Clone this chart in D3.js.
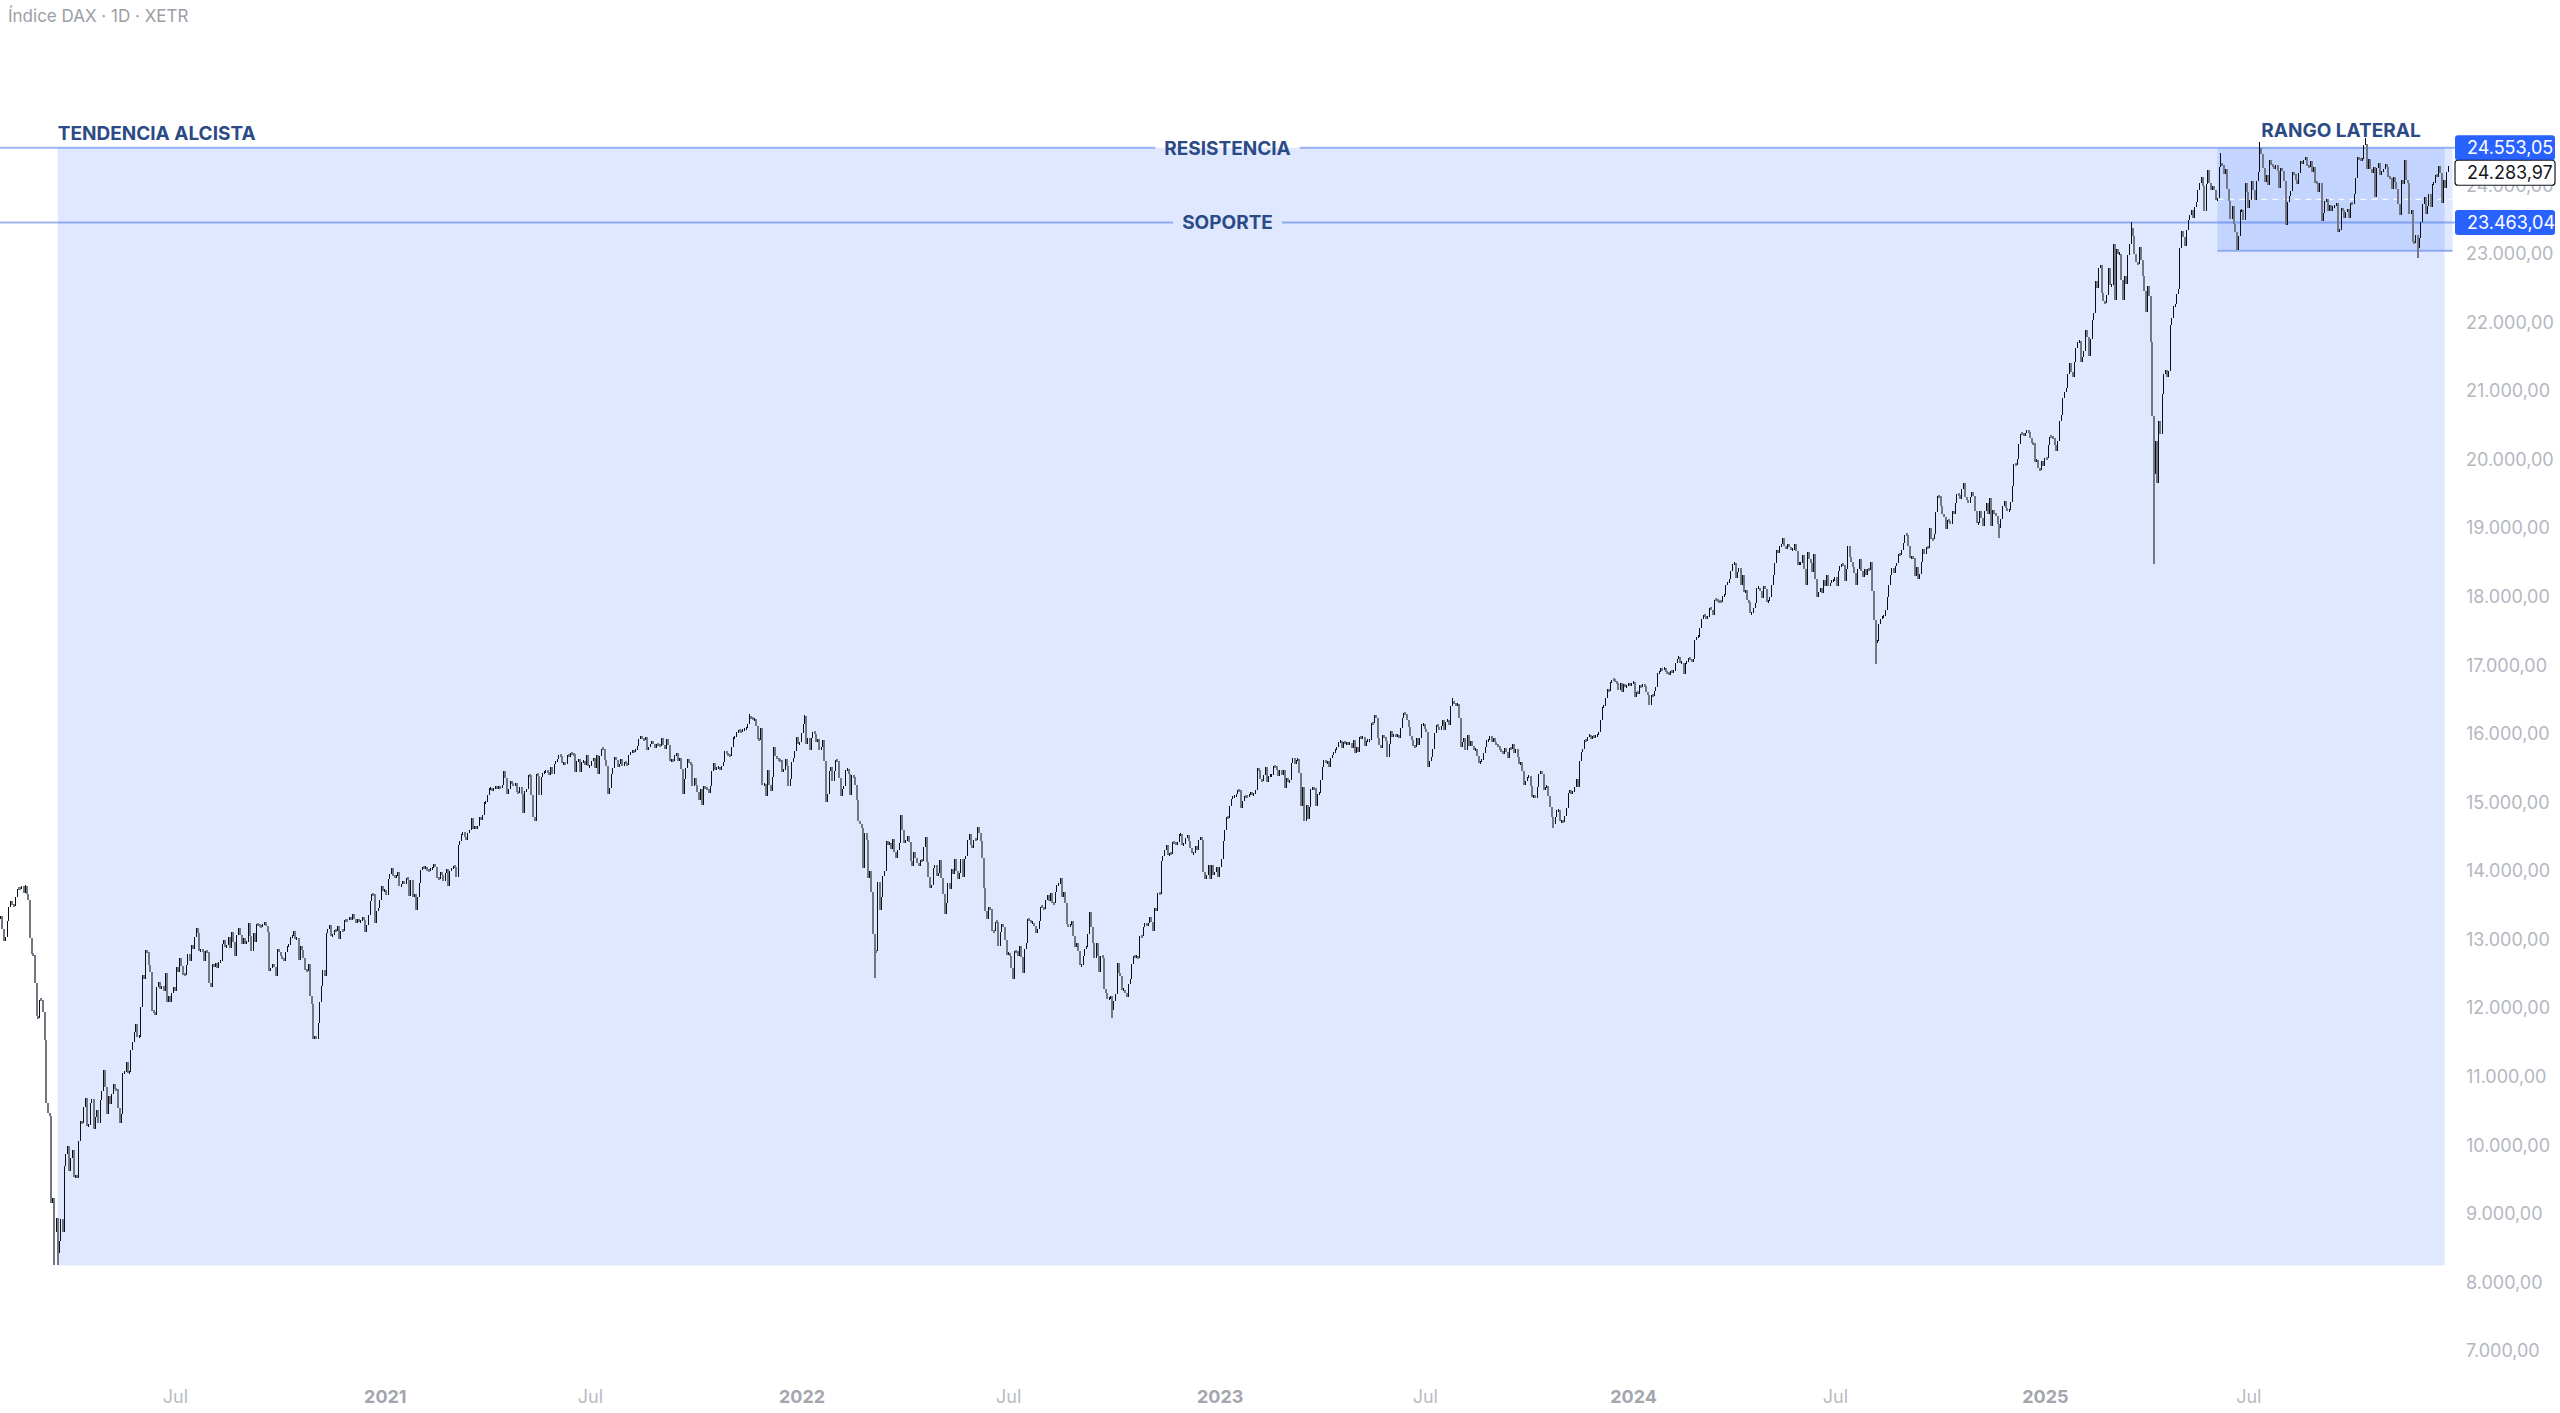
<!DOCTYPE html>
<html>
<head>
<meta charset="utf-8">
<script src="https://cdn.jsdelivr.net/npm/d3@7"></script>
<style>
html,body{margin:0;padding:0;background:#ffffff;}
svg{display:block;font-family:Inter,"Noto Sans",sans-serif;}
</style>
</head>
<body>
<svg id="chart" width="2560" height="1413"></svg>
<script>
// ---------------- DATA (daily closes, one inner array per month) ----------------
const years = [2020, 2021, 2022, 2023, 2024, 2025];
const firstMonth = [1, 1, 1, 1, 1, 1];

const dax2020 = [
  [13205,13324,13345,13158,12982],
  [13046,13281,13479,13575,13514,13494,13627,13750,13746,13744,13783,13681,13789,13665,13579,13035,12790,12775,12367,11890],
  [11857,12128,12127,11944,11542,10625,10475,10439,9161,9232,8742,8939,8442,8610,8929,8742,9701,9874,10000,9633,9816,9936],
  [9544,9571,9525,10075,10356,10333,10565,10697,10280,10301,10626,10676,10250,10415,10514,10336,10659,10796,11107,10862],
  [10467,10730,10607,10759,10904,10825,10820,10543,10337,10465,11058,11075,11223,11066,11074,11391,11505,11657,11781,11587],
  [11587,12021,12487,12431,12848,12820,12642,12530,11970,11949,11911,12316,12382,12281,12331,12262,12523,12093,12178,12089,12232,12311],
  [12260,12608,12528,12733,12616,12494,12489,12633,12800,12697,12930,12874,13046,13171,13104,12838,12856,12838,12689,12836,12822,12379,12313],
  [12647,12600,12660,12591,12674,12687,12947,12994,12901,12920,13047,12882,13109,12977,12764,13067,13178,13066,12945,13033,12945],
  [12974,13243,13058,12843,13100,12968,13238,13209,13203,13194,13218,13256,13208,13116,12542,12595,12643,12607,12469,12871,12826,12761],
  [12731,12689,12828,12906,12928,13042,13051,13138,13018,13028,12704,12908,12854,12736,12558,12543,12646,12178,12064,11561,11598,11556],
  [11788,12089,12324,12568,12480,13096,13164,13216,13052,13077,13139,13133,13202,13014,13137,13127,13292,13290,13286,13335,13291],
  [13382,13313,13253,13299,13271,13278,13340,13296,13114,13223,13362,13565,13668,13667,13246,13418,13465,13587,13791,13719]
];
const dax2021 = [
  [13727,13651,13892,13968,14050,13937,13925,13940,13989,13788,13815,13848,13816,13907,13874,13643,13870,13620,13665,13433],
  [13622,13835,14015,14060,14057,14059,14012,14011,14040,14050,14109,14064,13910,13887,13993,13950,13865,13976,14039,13786],
  [14012,14039,14081,14057,13921,14380,14437,14541,14569,14502,14461,14557,14597,14776,14621,14657,14621,14662,14786,14748,14817,15008,15008],
  [15107,15212,15213,15176,15202,15234,15215,15233,15209,15255,15460,15368,15129,15195,15320,15280,15249,15292,15154,15136],
  [15236,15128,14856,15170,15196,15400,15399,15120,14789,14730,15417,15396,15113,15370,15438,15438,15465,15450,15406,15520,15421],
  [15567,15603,15632,15693,15677,15574,15581,15571,15693,15674,15729,15711,15710,15448,15603,15636,15456,15589,15607,15554,15691,15531],
  [15537,15603,15650,15511,15692,15420,15688,15790,15789,15629,15540,15133,15216,15423,15514,15670,15618,15519,15571,15640,15544,15599],
  [15568,15555,15692,15744,15761,15745,15770,15826,15937,15977,15925,15921,15965,15766,15808,15852,15906,15860,15793,15851,15836,15835],
  [15946,15840,15781,15932,15843,15610,15623,15609,15701,15722,15616,15651,15490,15132,15348,15507,15645,15574,15573,15249,15365,15260],
  [15156,15036,15195,14973,15250,15207,15199,15147,15250,15462,15587,15474,15516,15523,15473,15543,15600,15757,15706,15696,15689],
  [15807,15954,15960,16029,16054,16046,16041,16067,16083,16095,16148,16248,16247,16214,16222,16116,15937,15918,16097,15257,15280,15100],
  [15472,15263,15170,15381,15813,15687,15639,15623,15621,15453,15476,15636,15532,15239,15341,15593,15653,15757,15964,15852,15885]
];
const dax2022 = [
  [16021,16153,16271,15862,15948,15768,15942,16040,16010,15884,15933,15773,15810,15912,15604,15011,15123,15460,15525,15318,15471],
  [15619,15613,15368,15100,15206,15242,15482,15490,15426,15114,15412,15370,15267,15042,14731,14693,14631,14052,14567,14461],
  [13905,14000,13698,13094,12835,12832,13848,13443,13628,13929,14000,14440,14388,14413,14326,14474,14284,14191,14306,14418,14821,14606,14415],
  [14446,14518,14425,14152,14078,14284,14193,14125,14076,14164,14153,14362,14502,14142,13924,13756,13795,14050,14098],
  [13939,13970,14171,13903,13674,13380,13534,13828,13739,14028,13964,14186,14007,13883,13982,14176,13920,14176,14231,14462,14541,14388],
  [14340,14461,14460,14653,14556,14446,14199,13761,13428,13304,13483,13447,13127,13126,13266,13265,12912,13119,13232,13186,13003,12784],
  [12813,12773,12595,12428,12843,12832,12767,12905,12756,12520,12864,12959,13308,13282,13247,13254,13210,13097,13166,13282,13484],
  [13479,13449,13587,13662,13574,13687,13535,13534,13694,13795,13816,13910,13626,13697,13544,13230,13194,13220,13272,13052,12893,12961,12834],
  [12630,12631,12761,12871,12904,13088,13402,13189,12956,12741,12958,12767,12531,12767,12741,12284,12227,12139,12140,12183,11976,12114],
  [12209,12670,12517,12471,12273,12273,12220,12172,12356,12438,12649,12765,12742,12767,12731,13053,13052,13196,13243,13211,13254],
  [13338,13256,13130,13460,13429,13688,13666,14146,14224,14313,14379,14234,14266,14257,14423,14422,14383,14428,14541,14542,14383,14397],
  [14490,14529,14447,14343,14261,14264,14370,14306,14461,14497,14460,13986,13893,13942,14098,13884,14097,13941,13995,14071,13924]
];
const dax2023 = [
  [14069,14181,14436,14610,14792,14774,14948,15058,15084,15087,15135,15187,15182,14920,15033,15103,15093,15081,15132,15150,15126,15128],
  [15180,15509,15476,15345,15320,15413,15524,15307,15398,15398,15400,15533,15532,15482,15398,15477,15400,15475,15210,15366],
  [15305,15328,15578,15654,15559,15631,15633,15428,14959,15233,14735,14967,14768,14933,15196,15216,15210,14957,15128,15142,15329,15522,15629],
  [15581,15603,15520,15655,15703,15729,15789,15807,15883,15896,15795,15882,15863,15872,15863,15874,15800,15922],
  [15726,15815,15734,15961,15953,15956,15834,15896,15913,15917,16164,16163,16275,16240,15952,15843,15793,15983,15953,15908,15664],
  [15854,16051,15964,15992,15960,15989,15949,16097,16230,16310,16290,16201,16111,15970,15911,15830,15813,15939,15847,15949,16147,16148],
  [16081,16039,15528,15603,15673,15790,16023,16141,16105,16068,16125,16204,16062,16176,16211,16131,16406,16470,16447,16415,16446],
  [16241,15815,15893,15952,15774,15995,15833,15904,15833,15768,15789,15677,15574,15603,15625,15725,15818,15914,15914,15978,15891,15947,15880],
  [15840,15825,15772,15741,15719,15800,15740,15654,15805,15778,15863,15727,15781,15664,15559,15598,15464,15256,15322,15378,15386],
  [15247,15085,15100,15071,15229,15423,15461,15423,15186,15238,15252,15095,14945,14798,14687,14800,14892,14892,14730,14731,14716,14810],
  [14924,15143,15189,15135,15152,15230,15353,15234,15614,15748,15786,15919,15901,15957,15995,15937,15970,15959,15969,15993,16030,16215],
  [16397,16405,16533,16656,16629,16759,16794,16791,16766,16752,16651,16751,16611,16734,16687,16706,16742,16701,16752]
];
const dax2024 = [
  [16769,16538,16617,16594,16716,16689,16721,16705,16622,16572,16431,16567,16555,16628,16683,16889,16907,16961,16942,16972,16904,16903],
  [16859,16918,16911,16926,17037,17100,17124,17037,17046,16880,17046,17047,17117,17093,17068,17092,17370,17419,17423,17556,17678],
  [17735,17716,17698,17716,17843,17814,17746,17965,17961,17942,17936,17932,18015,18026,18179,18205,18261,18384,18477,18492],
  [18283,18367,18430,18175,18318,18077,18097,17955,17930,17766,17770,17837,17917,18137,18138,18088,17991,18159,18118,17932],
  [17937,18001,18175,18322,18498,18686,18650,18742,18768,18869,18738,18704,18768,18726,18691,18693,18774,18677,18473,18496,18498],
  [18608,18406,18175,18652,18557,18494,18369,18630,18265,18002,18068,18131,18067,18254,18163,18325,18155,18210,18235,18235],
  [18290,18164,18374,18450,18475,18472,18236,18407,18748,18590,18518,18437,18354,18171,18407,18558,18387,18298,18417,18316,18411,18394,18508],
  [18083,17661,17339,17354,17615,17680,17722,17726,17812,17995,18183,18322,18422,18356,18448,18493,18633,18617,18681,18782,18912,18906],
  [18747,18576,18591,18576,18301,18444,18266,18330,18518,18699,18633,18726,18720,19002,18847,18846,18918,19238,19474,19473,19324],
  [19213,19164,18991,19121,19104,19065,19254,19211,19373,19508,19486,19432,19583,19657,19462,19422,19377,19464,19532,19477,19257,19077,19079],
  [19254,19149,19039,19256,19366,19215,19448,19034,19263,19211,19189,19060,19004,19146,19323,19406,19295,19261,19268,19389,19626],
  [19934,19933,20016,20232,20385,20384,20345,20399,20426,20405,20314,20246,20242,19970,20003,19884,19849,19984,19909]
];
const dax2025 = [
  [20029,20024,20216,20341,20330,20317,20214,20133,20271,20575,20655,20903,20990,21043,21254,21411,21282,21215,21430,21637,21727,21732],
  [21428,21505,21585,21902,21787,21521,21759,22038,22148,22612,22513,22798,22844,22433,22314,22287,22410,22794,22550,22551],
  [23147,22327,23081,23008,23009,22620,22329,22676,22567,22987,23154,23381,23266,22999,22892,22852,23110,22910,22678,22461,22163],
  [22539,22390,21717,20642,19789,20280,19670,20564,20374,20955,21254,21311,21206,21294,21962,22064,22243,22272,22425,22497],
  [23087,23345,23249,23116,23353,23499,23567,23638,23527,23696,23767,23935,24036,24122,23999,23630,24027,24226,24039,23933,23997],
  [23930,23787,23819,24276,24324,24304,24174,24247,23948,23772,23516,23699,23434,23318,23057,23270,23641,23649,23498,24033,23910],
  [23673,23790,24067,23933,23787,24073,24206,24550,24456,24255,24060,24160,24009,24370,24307,24289,24240,24296,24217,23970,24262,24218,24065],
  [23426,23758,23846,23925,24193,24163,24081,24024,24186,24359,24311,24381,24423,24293,24276,24363,24200,24273,24046,24039,23902],
  [24037,23487,23595,23770,23807,23633,23718,23633,23698,23703,23748,23329,23359,23674,23639,23528,23611,23666,23534,23745,23739,23880],
  [24114,24423,24379,24378,24385,24597,24611,24241,24388,24237,24181,24272,23831,24259,24330,24151,24208,24240,24309,24278,24124,24118,23958],
  [24133,24049,23949,23734,23569,24088,24020,24381,24085,24042,23590,23640,23180,23162,23279,23092,23239,23464,23726,23836],
  [23589,23710,23882,23694,24028,24046,24162,24130,24294,24186,23742,24076,23960,24200,24283.97]
];
const yearSeries = [dax2020, dax2021, dax2022, dax2023, dax2024, dax2025];

// intraday extremes read from the long wicks: [month, day index in month, price]
const wickLows = [["2020-03",10,8255],["2020-03",12,8256],["2022-03",4,12439],["2022-09",20,11862],
                  ["2023-10",14,14630],["2024-08",2,17024],["2024-11",12,18860],["2025-04",4,18490],["2025-11",15,22940]];
const wickHighs = [["2020-02",12,13795],["2021-11",11,16290],["2022-01",2,16285],["2023-07",17,16528],
                   ["2025-03",11,23476],["2025-06",4,24480],["2025-07",7,24630],["2025-10",6,24700]];

// levels
const resistance = 24553.05;
const support = 23463.04;
const lastPrice = 24283.97;
const trendLow = 8255;
const rangeLow = 23050;
const trendStart = ["2020-03", 12];
const rangeStart = ["2025-06", 2];

// axes
const priceTicks = [7000,8000,9000,10000,11000,12000,13000,14000,15000,16000,17000,18000,19000,20000,21000,22000,23000,24000];
const tickMonths = ["2020-07","2021-01","2021-07","2022-01","2022-07","2023-01","2023-07","2024-01","2024-07","2025-01","2025-07"];
const tickLabels = ["Jul","2021","Jul","2022","Jul","2023","Jul","2024","Jul","2025","Jul"];

const title = "Índice DAX · 1D · XETR";
const labelTrend = "TENDENCIA ALCISTA";
const labelRes = "RESISTENCIA";
const labelSup = "SOPORTE";
const labelRange = "RANGO LATERAL";

// ---------------- BUILD ----------------
const bars = [];
yearSeries.forEach((yr, yi) => yr.forEach((mon, mi) => mon.forEach((c, di) => {
  bars.push({month: `${years[yi]}-${String(mi + firstMonth[yi]).padStart(2, "0")}`, day: di, close: c});
})));
bars.forEach((b, i) => { b.i = i; b.open = i ? bars[i - 1].close : b.close; b.high = Math.max(b.open, b.close); b.low = Math.min(b.open, b.close); });
const findBar = (m, d) => bars.find(b => b.month === m && b.day === d);
wickLows.forEach(([m, d, v]) => { const b = findBar(m, d); if (b) b.low = Math.min(b.low, v); });
wickHighs.forEach(([m, d, v]) => { const b = findBar(m, d); if (b) b.high = Math.max(b.high, v); });
const N = bars.length;

const x = d3.scaleLinear().domain([0, N - 1]).range([-2.5, 2448.5]);
const y = d3.scaleLinear().domain([7000, 25000]).range([1351.4, 117.1]);

const loc = d3.formatLocale({decimal: ",", thousands: ".", grouping: [3], currency: ["", "€"]});
const fmt = loc.format(",.2f");

const svg = d3.select("#chart");
const plotRight = 2455;
const lineColor = "#a0b8f0";
const textBlue = "#2b4a86";
const fillBlue = "rgba(41,98,255,0.15)";

// title
svg.append("text").attr("x", 8).attr("y", 22).attr("font-size", 17).attr("fill", "#9b9ea6").text(title);

// big trend rectangle
const tStartX = x(findBar(...trendStart).i);
const lastX = x(N - 1);
svg.append("rect").attr("x", tStartX).attr("y", y(resistance))
  .attr("width", lastX - 4 - tStartX).attr("height", y(trendLow) - y(resistance)).attr("fill", fillBlue);

// range rectangle
const rStartX = x(findBar(...rangeStart).i);
svg.append("rect").attr("x", rStartX).attr("y", y(resistance))
  .attr("width", lastX + 4 - rStartX).attr("height", y(rangeLow) - y(resistance)).attr("fill", fillBlue);
svg.append("line").attr("x1", rStartX).attr("x2", lastX + 4).attr("y1", y(rangeLow)).attr("y2", y(rangeLow))
  .attr("stroke", "#8eaaf0").attr("stroke-width", 2);
svg.append("line").attr("x1", rStartX).attr("x2", lastX + 4)
  .attr("y1", y((resistance + rangeLow) / 2)).attr("y2", y((resistance + rangeLow) / 2))
  .attr("stroke", "#ffffff").attr("stroke-width", 1.2).attr("stroke-dasharray", "6,5").attr("opacity", 0.9);

// horizontal levels with centered labels
function level(value, label) {
  const cx = plotRight / 2;
  const t = svg.append("text").attr("x", cx).attr("y", y(value) + 7).attr("text-anchor", "middle")
    .attr("font-size", 19).attr("font-weight", 700).attr("fill", textBlue).text(label);
  const w = t.node().getComputedTextLength();
  [[0, cx - w / 2 - 9], [cx + w / 2 + 9, plotRight]].forEach(([a, b]) => {
    svg.insert("line", "text").attr("x1", a).attr("x2", b).attr("y1", y(value)).attr("y2", y(value))
      .attr("stroke", lineColor).attr("stroke-width", 2);
  });
}
level(resistance, labelRes);
level(support, labelSup);

// candles: up = thin black, down = gray body
const up = "#0d0f16", down = "#737782";
const cg = svg.append("g").attr("shape-rendering", "crispEdges");
cg.selectAll("rect.c").data(bars).join("rect").attr("class", "c")
  .attr("x", d => d.close >= d.open ? x(d.i) - 0.5 : x(d.i) - 1)
  .attr("width", d => d.close >= d.open ? 1 : 2)
  .attr("y", d => { const h = y(d.low) - y(d.high); return h < 3 ? (y(d.low) + y(d.high)) / 2 - 1.5 : y(d.high); })
  .attr("height", d => Math.max(3, y(d.low) - y(d.high)))
  .attr("fill", d => d.close >= d.open ? up : down);

// annotation texts
svg.append("text").attr("x", tStartX).attr("y", y(resistance) - 8).attr("font-size", 19).attr("font-weight", 700)
  .attr("fill", textBlue).text(labelTrend);
svg.append("text").attr("x", (rStartX + lastX + 4) / 2 + 6).attr("y", y(resistance) - 11).attr("text-anchor", "middle")
  .attr("font-size", 19).attr("font-weight", 700).attr("fill", textBlue).text(labelRange);

// y axis
const yAxis = d3.axisRight(y).tickValues(priceTicks).tickFormat(fmt).tickSize(0).tickPadding(0);
const gy = svg.append("g").attr("transform", "translate(2466,0)").call(yAxis);
gy.select(".domain").remove();
gy.selectAll("text").attr("font-size", 18).attr("fill", "#b4b7bf").attr("font-family", "Inter, 'Noto Sans', sans-serif").attr("dy", "0.3em");

// x axis
const tickIdx = tickMonths.map(m => bars.find(b => b.month === m).i);
const xAxis = d3.axisBottom(x).tickValues(tickIdx).tickFormat((d, i) => tickLabels[i]).tickSize(0).tickPadding(0);
const gx = svg.append("g").attr("transform", "translate(0,1390)").call(xAxis);
gx.select(".domain").remove();
gx.selectAll("text").attr("font-size", 18).attr("font-family", "Inter, 'Noto Sans', sans-serif")
  .attr("fill", (d, i) => tickLabels[i] === "Jul" ? "#b9bcc3" : "#a3a6ad")
  .attr("font-weight", (d, i) => tickLabels[i] === "Jul" ? 400 : 700);

// price tags
function tag(value, cy, bg, fg, border) {
  const g = svg.append("g");
  g.append("rect").attr("x", 2455).attr("y", cy - 12.5).attr("width", 100).attr("height", 25).attr("rx", 3)
    .attr("fill", bg).attr("stroke", border || "none").attr("stroke-width", 1.2);
  g.append("text").attr("x", 2467).attr("y", cy).attr("dy", "0.36em").attr("font-size", 18)
    .attr("fill", fg).text(fmt(value));
}
const resY = y(resistance);
tag(resistance, resY, "#2962ff", "#ffffff");
tag(support, y(support), "#2962ff", "#ffffff");
tag(lastPrice, Math.max(y(lastPrice), resY + 25), "#ffffff", "#131722", "#131722");
</script>
</body>
</html>
